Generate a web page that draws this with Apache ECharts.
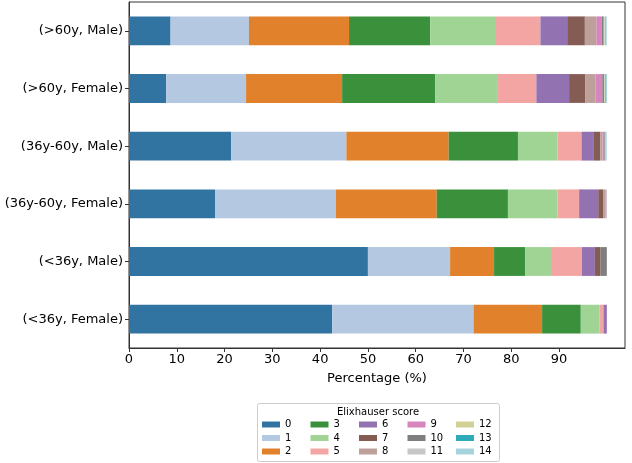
<!DOCTYPE html>
<html>
<head>
<meta charset="utf-8">
<script src="https://cdn.jsdelivr.net/npm/echarts@6/dist/echarts.min.js"></script>
<style>html,body{margin:0;padding:0;background:#fff;}#chart{width:632px;height:463px;}</style>
</head>
<body>
<div id="chart"></div>
<script>
const categories = ['(>60y, Male)', '(>60y, Female)', '(36y-60y, Male)', '(36y-60y, Female)', '(<36y, Male)', '(<36y, Female)'];
const scoreNames = ['0','1','2','3','4','5','6','7','8','9','10','11','12','13','14'];
const score0  = [8.7, 7.8, 21.4, 18.0, 50.0, 42.5];
const score1  = [16.4, 16.7, 24.1, 25.3, 17.2, 29.6];
const score2  = [20.95, 20.1, 21.4, 21.1, 9.2, 14.35];
const score3  = [17.0, 19.5, 14.5, 14.9, 6.5, 8.1];
const score4  = [13.55, 13.1, 8.3, 10.4, 5.4, 3.95];
const score5  = [9.5, 8.05, 5.0, 4.5, 6.5, 0.8];
const score6  = [5.6, 6.85, 2.6, 4.0, 2.7, 0.7];
const score7  = [3.7, 3.35, 1.3, 1.0, 1.2, 0];
const score8  = [2.4, 2.15, 0.5, 0.5, 0, 0];
const score9  = [1.15, 1.45, 0.4, 0.2, 0, 0];
const score10 = [0.4, 0.35, 0.2, 0.05, 1.3, 0];
const score11 = [0.2, 0.15, 0.1, 0, 0, 0];
const score12 = [0.2, 0.15, 0.05, 0, 0, 0];
const score13 = [0.1, 0.15, 0.05, 0, 0, 0];
const score14 = [0.15, 0.2, 0.05, 0, 0, 0];
const xTicks = [0, 10, 20, 30, 40, 50, 60, 70, 80, 90, 100];

const allScores = [score0, score1, score2, score3, score4, score5, score6, score7, score8, score9, score10, score11, score12, score13, score14];
const colors = ['#3274a1','#b5c8e1','#e1812c','#3b913b','#9fd495','#f2a5a3','#9372b2','#845c53','#bea09a','#d685bd','#7f7f7f','#c7c7c7','#d1d197','#2eabb8','#a7d4dc'];
const FONT = 'DejaVu Sans';

const series = allScores.map((vals, i) => ({
  name: scoreNames[i],
  type: 'bar',
  stack: 'total',
  barWidth: '50%',
  data: vals,
  itemStyle: { color: colors[i] },
  emphasis: { disabled: true },
  animation: false
}));

const colX = [262, 310.5, 359, 407.5, 456];
const rowY = [424.5, 438, 451.5];
const legends = scoreNames.map((nm, i) => ({
  orient: 'horizontal',
  left: colX[Math.floor(i / 3)],
  top: rowY[i % 3] - 6.5,
  itemWidth: 18,
  itemHeight: 6,
  padding: 0,
  icon: 'rect',
  selectedMode: false,
  data: [nm],
  textStyle: { fontFamily: FONT, fontSize: 10, color: '#000', lineHeight: 13 }
}));

const chart = echarts.init(document.getElementById('chart'), null, { renderer: 'canvas' });
chart.setOption({
  animation: false,
  color: colors,
  textStyle: { fontFamily: FONT },
  grid: { left: 129, right: 7, top: 2, bottom: 115, show: true, borderColor: '#333', borderWidth: 1, containLabel: false },
  legend: legends,
  graphic: [
    { type: 'rect', z: -1, shape: { x: 257.5, y: 403.5, width: 242, height: 58, r: 2 },
      style: { fill: '#fff', stroke: '#ccc', lineWidth: 1 } },
    { type: 'text', z: 5, style: { text: 'Elixhauser score', x: 378, y: 412.5, align: 'center', verticalAlign: 'middle',
      font: '10px "DejaVu Sans"', fill: '#000' } }
  ],
  xAxis: {
    type: 'value', min: 0, max: 103.8, interval: 10,
    name: 'Percentage (%)', nameLocation: 'middle', nameGap: 24,
    nameTextStyle: { fontFamily: FONT, fontSize: 13, color: '#000' },
    axisLine: { show: true, lineStyle: { color: '#333', width: 1 } },
    axisTick: { show: true, length: 4, lineStyle: { color: '#333' }, customValues: xTicks },
    axisLabel: { fontFamily: FONT, fontSize: 13, color: '#000', margin: 5, customValues: xTicks,
      formatter: v => (xTicks.indexOf(v) >= 0 ? String(v) : ''), showMaxLabel: false },
    splitLine: { show: false }
  },
  yAxis: {
    type: 'category', data: categories, inverse: true,
    axisLine: { show: true, lineStyle: { color: '#333', width: 1 } },
    axisTick: { show: true, alignWithLabel: true, length: 4, lineStyle: { color: '#333' } },
    axisLabel: { fontFamily: FONT, fontSize: 13, color: '#000', margin: 6 },
    splitLine: { show: false }
  },
  series: series
});
</script>
</body>
</html>
